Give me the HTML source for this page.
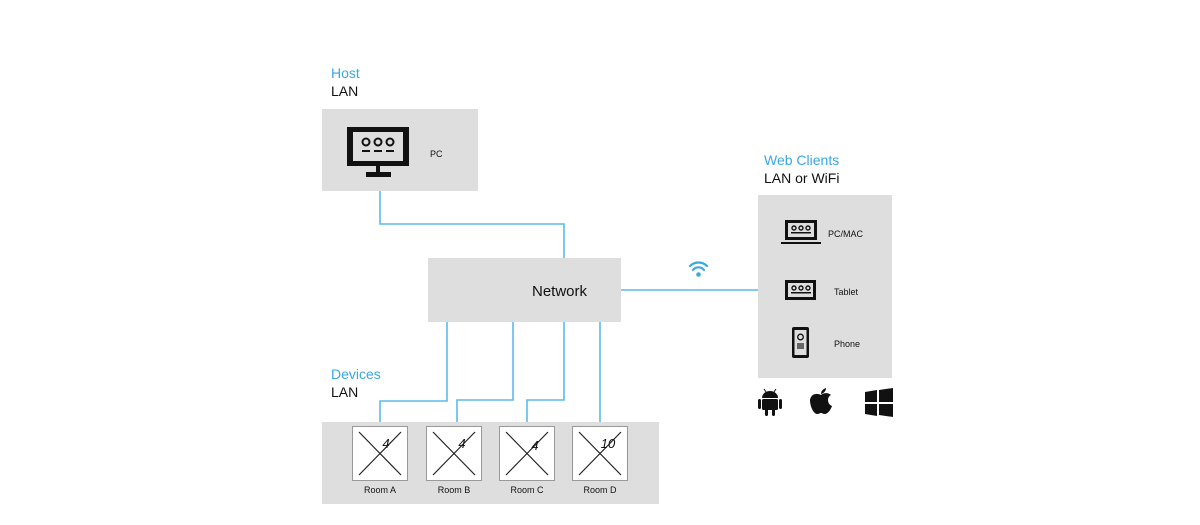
<!DOCTYPE html>
<html><head><meta charset="utf-8"><style>
html,body{margin:0;padding:0;background:#fff;}
svg{display:block;font-family:"Liberation Sans",sans-serif;}
</style></head><body>
<svg width="1200" height="525" viewBox="0 0 1200 525" xmlns="http://www.w3.org/2000/svg">
<rect width="1200" height="525" fill="#fff"/>
<!-- labels -->
<text x="331" y="78" font-size="14" fill="#3aa8e0">Host</text>
<text x="331" y="96" font-size="14" fill="#111">LAN</text>
<text x="764" y="165" font-size="14" fill="#3aa8e0">Web Clients</text>
<text x="764" y="183" font-size="14" fill="#111">LAN or WiFi</text>
<text x="331" y="379" font-size="14" fill="#3aa8e0">Devices</text>
<text x="331" y="397" font-size="14" fill="#111">LAN</text>
<!-- connectors -->
<g stroke="#5bbbe9" stroke-width="1.6" fill="none">
<polyline points="380,191 380,224 564,224 564,258"/>
<line x1="621" y1="290" x2="758" y2="290"/>
<polyline points="380,422 380,401 447,401 447,322"/>
<polyline points="457,422 457,400 513,400 513,322"/>
<polyline points="527,422 527,400 564,400 564,322"/>
<line x1="600" y1="322" x2="600" y2="422"/>
</g>
<!-- host box -->
<rect x="322" y="109" width="156" height="82" fill="#dedede"/>
<rect x="347" y="127" width="62" height="39" fill="#111"/>
<rect x="353" y="132" width="50" height="29" fill="#dedede"/>
<g fill="none" stroke="#111" stroke-width="2"><circle cx="366" cy="142" r="3.5"/><circle cx="378" cy="142" r="3.5"/><circle cx="390" cy="142" r="3.5"/></g>
<g fill="#111"><rect x="362" y="150" width="8" height="2"/><rect x="374" y="150" width="8" height="2"/><rect x="386" y="150" width="8" height="2"/>
<rect x="376" y="166" width="4" height="7"/><rect x="366" y="172" width="25" height="5"/></g>
<text x="430" y="157" font-size="9" fill="#111">PC</text>
<!-- network -->
<rect x="428" y="258" width="193" height="64" fill="#dedede"/>
<text x="532" y="296" font-size="15" fill="#111">Network</text>
<!-- wifi -->
<g fill="none" stroke="#3aa8e0" stroke-width="2.2" stroke-linecap="round">
<path d="M690,266 a12,12 0 0 1 17,0"/><path d="M693,270 a7,7 0 0 1 11,0"/></g>
<circle cx="698.5" cy="274.5" r="2.3" fill="#3aa8e0"/>
<!-- web clients box -->
<rect x="758" y="195" width="134" height="183" fill="#dedede"/>
<rect x="785" y="220" width="32" height="20" fill="#111"/><rect x="788" y="223" width="26" height="14" fill="#dedede"/>
<rect x="781" y="242" width="40" height="2" fill="#111"/>
<g fill="none" stroke="#111" stroke-width="1.4"><circle cx="794" cy="228" r="2"/><circle cx="801" cy="228" r="2"/><circle cx="808" cy="228" r="2"/></g>
<rect x="791" y="232" width="20" height="1.5" fill="#111"/>
<text x="828" y="237" font-size="9" fill="#111">PC/MAC</text>
<rect x="785" y="280" width="31" height="20" fill="#111"/><rect x="788" y="283" width="25" height="14" fill="#dedede"/>
<g fill="none" stroke="#111" stroke-width="1.4"><circle cx="794" cy="288" r="2"/><circle cx="801" cy="288" r="2"/><circle cx="808" cy="288" r="2"/></g>
<rect x="791" y="292" width="20" height="1.5" fill="#111"/>
<text x="834" y="295" font-size="9" fill="#111">Tablet</text>
<rect x="792" y="327" width="17" height="31" rx="2" fill="#111"/><rect x="794.5" y="330" width="12" height="25" fill="#dedede"/>
<circle cx="800.5" cy="337" r="2.8" fill="none" stroke="#111" stroke-width="1.3"/>
<rect x="797" y="343" width="7" height="6" fill="#666"/>
<text x="834" y="347" font-size="9" fill="#111">Phone</text>
<!-- OS icons -->
<g fill="#111">
<path d="M762,398 a8,7 0 0 1 16,0 z"/>
<rect x="762" y="399" width="16" height="11" rx="1.5"/>
<rect x="758" y="399" width="3" height="10" rx="1.5"/><rect x="779" y="399" width="3" height="10" rx="1.5"/>
<rect x="765" y="409" width="3" height="7" rx="1.5"/><rect x="772" y="409" width="3" height="7" rx="1.5"/>
<line x1="764" y1="389" x2="766" y2="392" stroke="#111" stroke-width="1"/><line x1="776" y1="389" x2="774" y2="392" stroke="#111" stroke-width="1"/>
<path d="M821,395 c-3,-2 -10,-2 -11,5 c0,7 4,14 7,14 c2,0 3,-1 4,-1 c1,0 2,1 4,1 c3,0 6,-5 7,-8 c-3,-1 -4,-4 -4,-6 c0,-2 1,-4 3,-5 c-2,-2 -7,-3 -10,0z"/>
<path d="M821,394 c0,-3 2,-5 5,-6 c0,3 -2,5 -5,6z"/>
<path d="M865,392 l12,-2 v12 h-12z"/><path d="M879,390 l14,-2 v14 h-14z"/>
<path d="M865,404 h12 v12 l-12,-2z"/><path d="M879,404 h14 v13 l-14,-2z"/>
</g>
<!-- devices box -->
<rect x="322" y="422" width="337" height="82" fill="#dedede"/>
<g font-size="9" fill="#111" text-anchor="middle">
<g transform="translate(352,426)"><rect x="0.5" y="0.5" width="55" height="54" fill="#fff" stroke="#999"/><line x1="7" y1="6" x2="49" y2="49" stroke="#222" stroke-width="1.2"/><line x1="49" y1="6" x2="7" y2="49" stroke="#222" stroke-width="1.2"/><text x="34" y="22" font-size="13" font-style="italic">4</text><text x="28" y="67">Room A</text></g>
<g transform="translate(426,426)"><rect x="0.5" y="0.5" width="55" height="54" fill="#fff" stroke="#999"/><line x1="7" y1="6" x2="49" y2="49" stroke="#222" stroke-width="1.2"/><line x1="49" y1="6" x2="7" y2="49" stroke="#222" stroke-width="1.2"/><text x="36" y="22" font-size="13" font-style="italic">4</text><text x="28" y="67">Room B</text></g>
<g transform="translate(499,426)"><rect x="0.5" y="0.5" width="55" height="54" fill="#fff" stroke="#999"/><line x1="7" y1="6" x2="49" y2="49" stroke="#222" stroke-width="1.2"/><line x1="49" y1="6" x2="7" y2="49" stroke="#222" stroke-width="1.2"/><text x="36" y="24" font-size="13" font-style="italic">4</text><text x="28" y="67">Room C</text></g>
<g transform="translate(572,426)"><rect x="0.5" y="0.5" width="55" height="54" fill="#fff" stroke="#999"/><line x1="7" y1="6" x2="49" y2="49" stroke="#222" stroke-width="1.2"/><line x1="49" y1="6" x2="7" y2="49" stroke="#222" stroke-width="1.2"/><text x="36" y="22" font-size="13" font-style="italic">10</text><text x="28" y="67">Room D</text></g>
</g>
</svg>
</body></html>
